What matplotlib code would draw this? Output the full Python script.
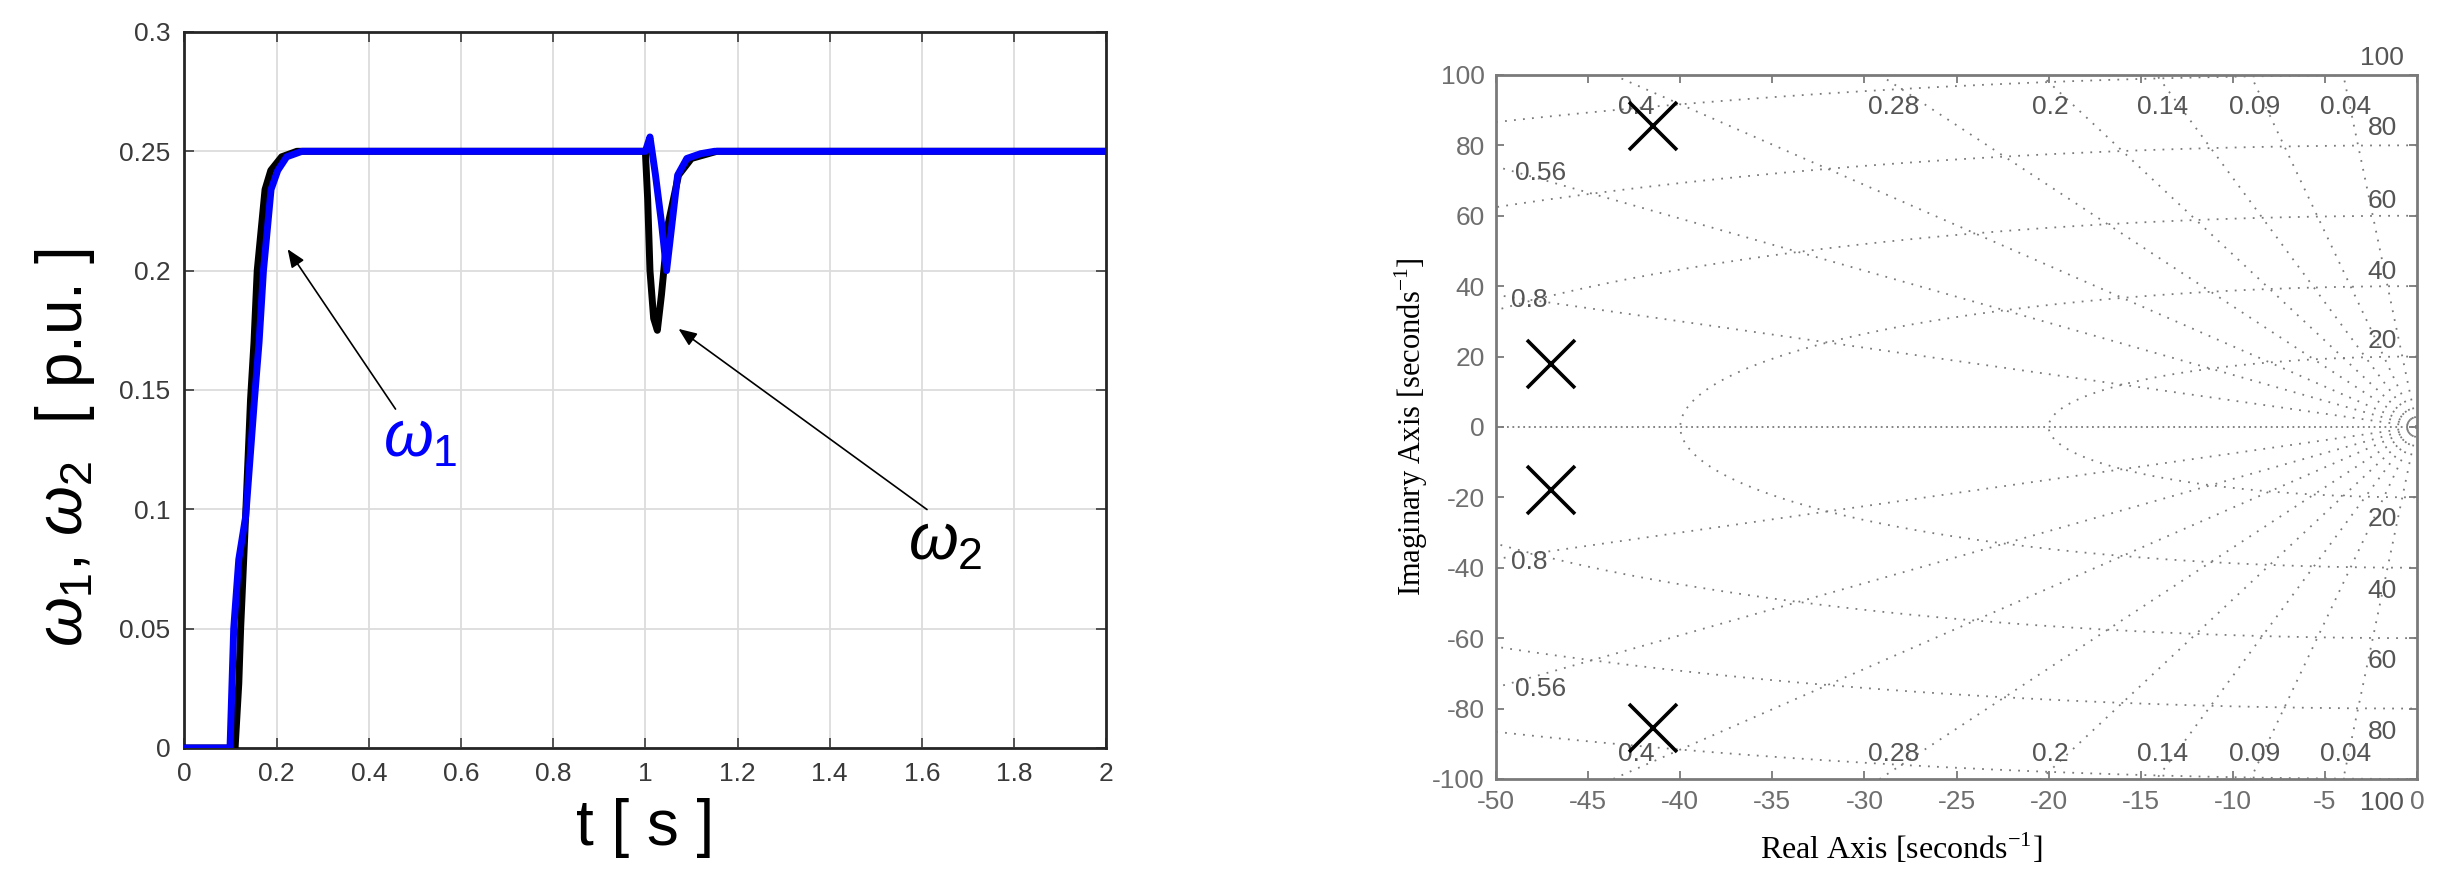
import matplotlib

matplotlib.use("Agg")
import matplotlib.pyplot as plt
import numpy as np

plt.rcParams["font.family"] = ["Liberation Sans", "DejaVu Sans"]
plt.rcParams["mathtext.fontset"] = "custom"
plt.rcParams["mathtext.rm"] = "Liberation Sans"
plt.rcParams["mathtext.it"] = "Liberation Sans:italic"
plt.rcParams["axes.unicode_minus"] = False

# --- left panel: speed responses ---
t_w1 = [0, 0.099, 0.107, 0.118, 0.133, 0.152, 0.162, 0.1715, 0.188, 0.2026, 0.222, 0.255,
        1.0, 1.01, 1.022, 1.035, 1.046, 1.058, 1.07, 1.09, 1.12, 1.15, 2.0]
w1 = [0, 0, 0.05, 0.079, 0.097, 0.146, 0.17, 0.2, 0.234, 0.242, 0.2477, 0.25,
      0.25, 0.256, 0.24, 0.22, 0.2, 0.22, 0.24, 0.247, 0.249, 0.25, 0.25]
t_w2 = [0, 0.11, 0.118, 0.122, 0.133, 0.1435, 0.151, 0.158, 0.175, 0.1875, 0.211, 0.244,
        1.0, 1.005, 1.01, 1.018, 1.026, 1.035, 1.05, 1.072, 1.10, 1.155, 2.0]
w2 = [0, 0, 0.027, 0.05, 0.098, 0.146, 0.17, 0.2, 0.234, 0.242, 0.2477, 0.25,
      0.25, 0.23, 0.2, 0.18, 0.175, 0.19, 0.22, 0.24, 0.247, 0.25, 0.25]
x_ticks_left = [0, 0.2, 0.4, 0.6, 0.8, 1, 1.2, 1.4, 1.6, 1.8, 2]
x_tick_labels_left = ["0", "0.2", "0.4", "0.6", "0.8", "1", "1.2", "1.4", "1.6", "1.8", "2"]
y_ticks_left = [0, 0.05, 0.1, 0.15, 0.2, 0.25, 0.3]
y_tick_labels_left = ["0", "0.05", "0.1", "0.15", "0.2", "0.25", "0.3"]

# --- right panel: pole map ---
pole_re = [-41.5, -47.0, -47.0, -41.5]
pole_im = [85.5, 17.8, -17.8, -85.5]
zeta = [0.04, 0.09, 0.14, 0.2, 0.28, 0.4, 0.56, 0.8]
wn = [20, 40, 60, 80, 100]
wn_labels = ["20", "40", "60", "80", "100"]

fig = plt.figure(figsize=(24.39, 8.93), dpi=100)

# ================= left =================
ax = fig.add_axes([0.0756, 0.1624, 0.378, 0.8018])
ax.plot(t_w2, w2, color="black", lw=5, solid_joinstyle="round", zorder=3)
ax.plot(t_w1, w1, color="#0000ff", lw=5, solid_joinstyle="round", zorder=4)
ax.set_xlim(0, 2)
ax.set_ylim(0, 0.3)
ax.set_xticks(x_ticks_left)
ax.set_xticklabels(x_tick_labels_left)
ax.set_yticks(y_ticks_left)
ax.set_yticklabels(y_tick_labels_left)
ax.grid(True, color="#dcdcdc", lw=1.3)
ax.set_axisbelow(True)
ax.tick_params(direction="in", top=True, right=True, labelsize=19, colors="#3a3a3a",
               length=7, width=1.2, pad=10)
for s in ax.spines.values():
    s.set_linewidth(2)
    s.set_color("#262626")
ax.set_xlabel("t [ s ]", fontsize=46, labelpad=9)
ax.set_ylabel(r"$\omega_1$, $\omega_2$  [ p.u. ]", fontsize=46)
ax.yaxis.set_label_coords(-0.095, 0.42)

arrow_kw = dict(arrowstyle="-|>,head_length=1.1,head_width=0.45", color="black", lw=1.2,
                shrinkA=0, shrinkB=0)
ax.annotate("", xy=(0.224, 0.209), xytext=(0.458, 0.142), arrowprops=arrow_kw, zorder=5)
ax.annotate("", xy=(1.072, 0.1756), xytext=(1.611, 0.0999), arrowprops=arrow_kw, zorder=5)
ax.text(0.43, 0.129, r"$\omega_1$", color="#0000ff", fontsize=46, va="center", ha="left")
ax.text(1.57, 0.086, r"$\omega_2$", color="black", fontsize=46, va="center", ha="left")

# ================= right =================
gcol = "#7a7a7a"
lcol = "#555555"
ax2 = fig.add_axes([0.6134, 0.1277, 0.3776, 0.7884])
ax2.set_xlim(-50, 0)
ax2.set_ylim(-100, 100)

# s-plane grid: damping rays and natural-frequency circles
R = 300
for z in zeta:
    wd = np.sqrt(1 - z ** 2)
    for sgn in (1, -1):
        ax2.plot([0, -R * z], [0, sgn * R * wd], ls=(0, (1, 4)), color=gcol, lw=1.3)
ax2.plot([-60, 0], [0, 0], ls=(0, (1, 2)), color=gcol, lw=1.3)
th = np.linspace(np.pi / 2, 3 * np.pi / 2, 800)
for w in wn:
    ax2.plot(w * np.cos(th), w * np.sin(th), ls=(0, (1, 4)), color=gcol, lw=1.3)

ax2.plot(pole_re, pole_im, ls="none", marker="x", ms=34, mew=2.6, color="black", zorder=5)

# damping labels
top_x = {"0.4": -42.4, "0.28": -28.4, "0.2": -19.9, "0.14": -13.8, "0.09": -8.8, "0.04": -3.9}
for lab, xx in top_x.items():
    ax2.text(xx, 91, lab, ha="center", va="center", fontsize=19, color=lcol)
    ax2.text(xx, -93, lab, ha="center", va="center", fontsize=19, color=lcol)
ax2.text(-47.6, 72, "0.56", ha="center", va="center", fontsize=19, color=lcol)
ax2.text(-47.6, -74.5, "0.56", ha="center", va="center", fontsize=19, color=lcol)
ax2.text(-48.2, 36, "0.8", ha="center", va="center", fontsize=19, color=lcol)
ax2.text(-48.2, -38.4, "0.8", ha="center", va="center", fontsize=19, color=lcol)
# natural frequency labels
wn_y_pos = [24.3, 44, 64.3, 85, 104.8]
wn_y_neg = [-26.2, -46.5, -66.4, -86.6, -106.9]
for lab, yp, yn in zip(wn_labels, wn_y_pos, wn_y_neg):
    ax2.text(-1.9, yp, lab, ha="center", va="center", fontsize=19, color=lcol, clip_on=False)
    ax2.text(-1.9, yn, lab, ha="center", va="center", fontsize=19, color=lcol, clip_on=False)

ax2.set_xticks(np.arange(-50, 1, 5))
ax2.set_yticks(np.arange(-100, 101, 20))
ax2.tick_params(direction="in", top=True, right=True, labelsize=19, colors="#6e6e6e",
                length=6, width=1.2, pad=8)
for s in ax2.spines.values():
    s.set_linewidth(2)
    s.set_color("#7a7a7a")
ax2.set_xlabel(r"Real Axis [seconds$^{\mathregular{-1}}$]", fontsize=23,
               family="Liberation Serif", labelpad=4)
ax2.xaxis.set_label_coords(0.44, -0.075)
ax2.set_ylabel(r"Imaginary Axis [seconds$^{\mathregular{-1}}$]", fontsize=22,
               family="Liberation Serif", labelpad=2)

fig.savefig("out.png", dpi=100)
